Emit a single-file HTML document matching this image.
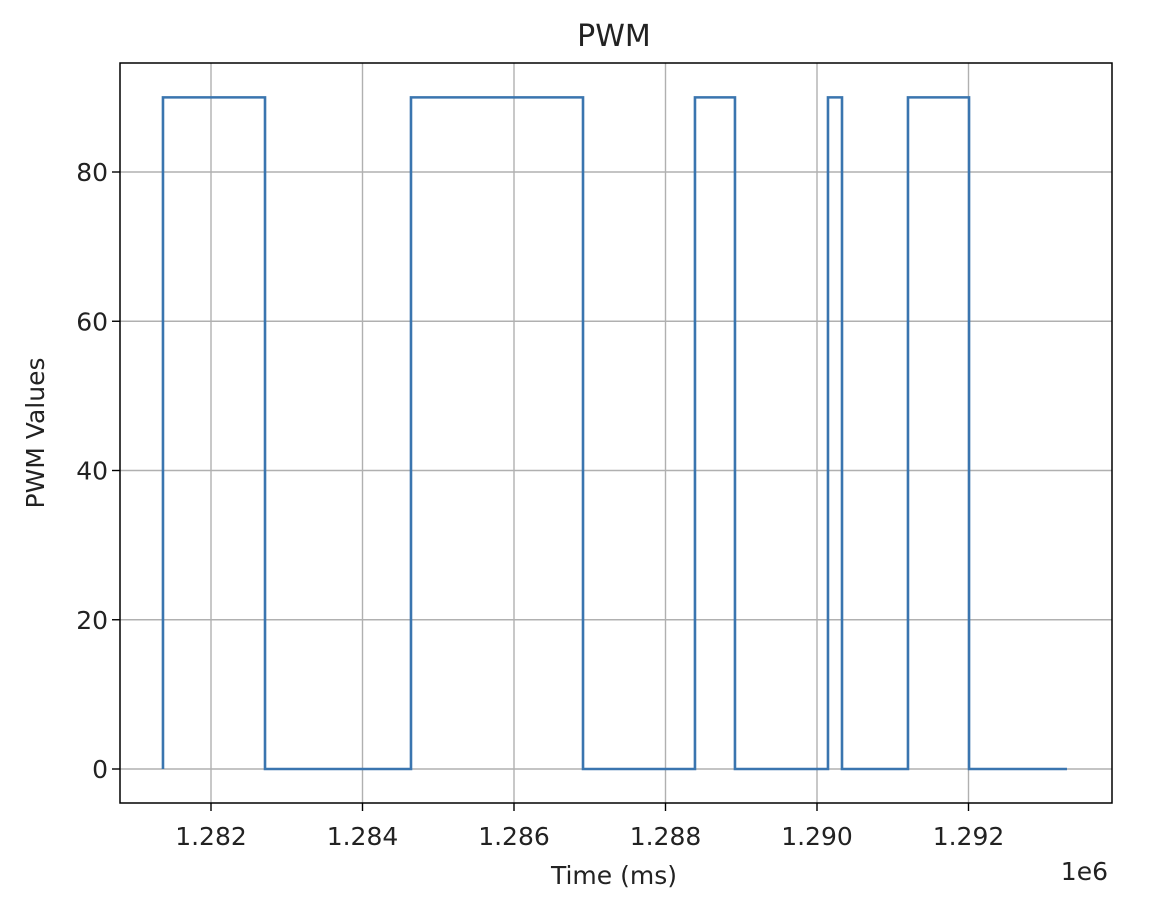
<!DOCTYPE html>
<html><head><meta charset="utf-8"><style>
body{margin:0;background:#fff;}
svg{font-family:"DejaVu Sans","Liberation Sans",sans-serif;}
</style></head><body>
<svg id="chart" width="1162" height="908"></svg>
<script>
const xs=[1281366,1281366,1282713,1282713,1284640,1284640,1286911,1286911,1288389,1288389,1288917,1288917,1290145,1290145,1290330,1290330,1291201,1291201,1292007,1292007,1293300];
const ys=[0,90,90,0,0,90,90,0,0,90,90,0,0,90,90,0,0,90,90,0,0];
const xTicks=[1282000,1284000,1286000,1288000,1290000,1292000];
const xTickLabels=["1.282","1.284","1.286","1.288","1.290","1.292"];
const yTicks=[0,20,40,60,80];
const L=120,R=1112,T=63,B=803;
const X=v=>211+(v-1282000)*(151.5/2000);
const Y=v=>769-v*(597/80);
const svg=document.getElementById('chart');
const NS='http://www.w3.org/2000/svg';
function mk(tag,attrs,parent){const e=document.createElementNS(NS,tag);for(const k in attrs)e.setAttribute(k,attrs[k]);(parent||svg).appendChild(e);return e;}
const grid=mk('g',{});


xTicks.forEach((t,i)=>{
  mk('line',{x1:X(t),x2:X(t),y1:T,y2:B,stroke:'#b0b0b0','stroke-width':1.4},grid);
  mk('line',{x1:X(t),x2:X(t),y1:B,y2:B+8,stroke:'#000','stroke-width':1.4});
  const tx=mk('text',{x:X(t),y:845,'font-size':25,'text-anchor':'middle',fill:'#222'});
  tx.textContent=xTickLabels[i];
  
  
});
yTicks.forEach(t=>{
  mk('line',{x1:L,x2:R,y1:Y(t),y2:Y(t),stroke:'#b0b0b0','stroke-width':1.4},grid);
  mk('line',{x1:L-8,x2:L,y1:Y(t),y2:Y(t),stroke:'#000','stroke-width':1.4});
  const tx=mk('text',{x:L-12,y:Y(t)+9,'font-size':25,'text-anchor':'end',fill:'#222'});
  tx.textContent=String(t);
  
  
});
const line=mk('polyline',{points:xs.map((x,i)=>X(x)+','+Y(ys[i])).join(' '),fill:'none',stroke:'#3a75af','stroke-width':2.6});


const frame=mk('rect',{x:L,y:T,width:R-L,height:B-T,fill:'none',stroke:'#000','stroke-width':1.5});


const title=mk('text',{x:(L+R)/2-2,y:46,'font-size':30,'text-anchor':'middle',fill:'#222'});
title.textContent='PWM';


const xl=mk('text',{x:(L+R)/2-2,y:884,'font-size':25,'text-anchor':'middle',fill:'#222'});
xl.textContent='Time (ms)';


const off=mk('text',{x:1108,y:880,'font-size':25,'text-anchor':'end',fill:'#222'});
off.textContent='1e6';


const yl=mk('text',{x:44,y:433,'font-size':25,'text-anchor':'middle',fill:'#222',transform:'rotate(-90 44 433)'});
yl.textContent='PWM Values';


</script>
</body></html>
